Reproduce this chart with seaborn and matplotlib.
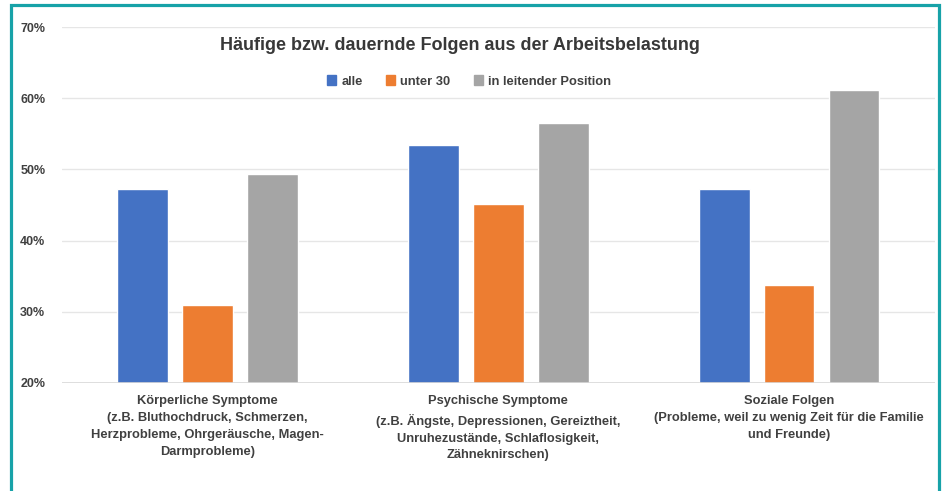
import pandas as pd
import matplotlib
matplotlib.use("Agg")
import matplotlib.pyplot as plt
import seaborn as sns
from matplotlib.patches import Rectangle
from matplotlib.ticker import FuncFormatter

# Data (percent)
categories = [
    "Körperliche Symptome\n(z.B. Bluthochdruck, Schmerzen,\nHerzprobleme, Ohrgeräusche, Magen-\nDarmprobleme)",
    "Psychische Symptome\n(z.B. Ängste, Depressionen, Gereiztheit,\nUnruhezustände, Schlaflosigkeit,\nZähneknirschen)",
    "Soziale Folgen\n(Probleme, weil zu wenig Zeit für die Familie\nund Freunde)",
]
groups = ["alle", "unter 30", "in leitender Position"]
alle = [47.2, 53.4, 47.3]
unter_30 = [31.0, 45.2, 33.8]
leitend = [49.4, 56.5, 61.1]
colors = ["#4472C4", "#ED7D31", "#A5A5A5"]

# long format table for seaborn
df = pd.DataFrame({
    "Kategorie": categories * 3,
    "Gruppe": [groups[0]] * 3 + [groups[1]] * 3 + [groups[2]] * 3,
    "Wert": alle + unter_30 + leitend,
})

sns.set_style("white")
plt.rcParams["font.family"] = ["Liberation Sans", "DejaVu Sans"]

fig = plt.figure(figsize=(9.44, 4.91), dpi=100)
ax = fig.add_axes([0.0657, 0.22, 0.9243, 0.725])

sns.barplot(data=df, x="Kategorie", y="Wert", hue="Gruppe", palette=colors,
            width=0.67, gap=0.22, saturation=1, ax=ax, legend=False, zorder=3)

ax.set_ylim(20, 70)
ax.set_xlim(-0.5, 2.5)
ax.set_yticks([20, 30, 40, 50, 60, 70])
ax.yaxis.set_major_formatter(FuncFormatter(lambda v, p: "{:.0f}%".format(v)))
ax.grid(axis="y", color="#e6e6e6", linewidth=1, zorder=0)
for s in ax.spines.values():
    s.set_visible(False)
ax.axhline(20, color="#d9d9d9", linewidth=1.2, zorder=4)
ax.set_xlabel("")
ax.set_ylabel("")
ax.tick_params(axis="y", length=0, pad=12, labelsize=9, labelcolor="#404040")
ax.tick_params(axis="x", length=0, pad=9, labelsize=9.3, labelcolor="#404040")
for lab in ax.get_yticklabels() + ax.get_xticklabels():
    lab.set_fontweight("bold")
for lab in ax.get_xticklabels():
    lab.set_linespacing(1.55)

# Title and legend inside the plot area
fig.text(0.487, 0.908, "Häufige bzw. dauernde Folgen aus der Arbeitsbelastung",
         ha="center", va="center", fontsize=13, fontweight="bold", color="#383838")
handles = [plt.Rectangle((0, 0), 1, 1, color=c) for c in colors]
leg = fig.legend(handles, groups, loc="center", bbox_to_anchor=(0.497, 0.834), ncol=3,
                 frameon=False, handlelength=0.7, handleheight=0.7, handletextpad=0.4,
                 columnspacing=1.8, prop={"size": 9.3, "weight": "bold"})
for t in leg.get_texts():
    t.set_color("#404040")

# teal frame around the chart (open at the bottom)
frame = Rectangle((10.5 / 944, -0.05), 928.5 / 944, 1.05 - 5.5 / 491,
                  transform=fig.transFigure, fill=False, edgecolor="#17A2A8",
                  linewidth=2.3, zorder=10)
fig.patches.append(frame)

fig.savefig("out.png", dpi=100, facecolor="white")
